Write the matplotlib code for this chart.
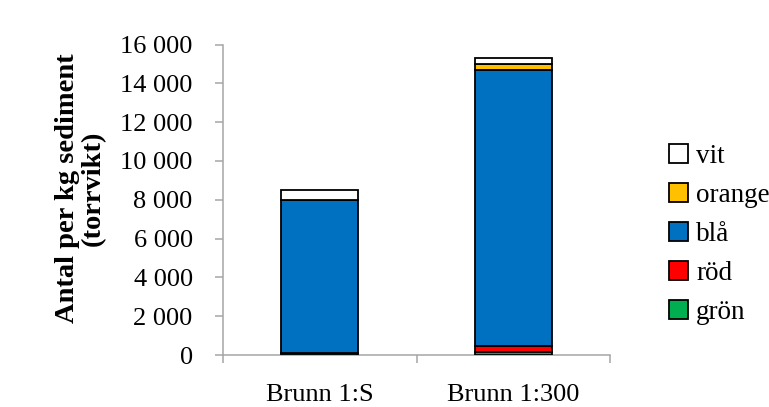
import matplotlib
matplotlib.use("Agg")
from matplotlib import pyplot as plt
from matplotlib.patches import Patch
from matplotlib.ticker import FuncFormatter, FixedLocator
import numpy as np

# data
stations = ['Brunn 1:S', 'Brunn 1:300']
gron = [100, 155]
rod = [0, 285]
bla = [7890, 14270]
orange = [0, 310]
vit = [510, 310]

series = [('grön', gron, '#00B050'),
          ('röd', rod, '#FF0000'),
          ('blå', bla, '#0070C0'),
          ('orange', orange, '#FFC000'),
          ('vit', vit, '#FFFFFF')]

yticks = np.arange(0, 16001, 2000)
axis_grey = '#a6a6a6'
fs = 19

plt.rcParams['font.family'] = ['Liberation Serif', 'DejaVu Serif']

fig = plt.figure(figsize=(7.69, 4.07), dpi=100)
ax = fig.add_axes([223 / 769, 1 - 355 / 407, (610 - 223) / 769, (355 - 44.5) / 407])

x = np.arange(len(stations))
bottom = np.zeros(len(stations))
for name, vals, col in series:
    ax.bar(x, vals, width=0.4, bottom=bottom, color=col, edgecolor='black', linewidth=1.3, zorder=3)
    bottom += np.array(vals)

ax.set_xlim(-0.5, len(stations) - 0.5)
ax.set_ylim(0, 16000)
ax.set_yticks(yticks)
ax.yaxis.set_major_formatter(FuncFormatter(lambda v, p: '{:,.0f}'.format(v).replace(',', ' ')))
ax.set_xticks(x)
ax.set_xticklabels(stations)
ax.xaxis.set_minor_locator(FixedLocator(np.arange(-0.5, len(stations), 1.0)))

for s in ['top', 'right']:
    ax.spines[s].set_visible(False)
for s in ['left', 'bottom']:
    ax.spines[s].set_color(axis_grey)
    ax.spines[s].set_linewidth(1.1)

ax.tick_params(axis='y', direction='out', length=5.8, width=1.1, color=axis_grey,
               pad=16, labelsize=fs, labelcolor='black')
ax.tick_params(axis='x', which='major', length=0, pad=21, labelsize=fs, labelcolor='black')
ax.tick_params(axis='x', which='minor', direction='out', length=6, width=1.1, color=axis_grey)

fig.text(80 / 769, 1 - 188 / 407, 'Antal per kg sediment\n(torrvikt)', rotation=90,
         ha='center', va='center', multialignment='center', fontsize=20.5, fontweight='bold',
         linespacing=1.05)

handles = [Patch(facecolor=col, edgecolor='black', linewidth=1.3, label=name)
           for name, vals, col in series[::-1]]
fig.legend(handles=handles, loc='upper left', bbox_to_anchor=(669 / 769, 1 - 144 / 407),
           frameon=False, fontsize=fs + 0.5, handlelength=0.7, handleheight=0.7,
           handletextpad=0.3, labelspacing=0.52, borderpad=0, borderaxespad=0)

fig.savefig('out.png', dpi=100)
